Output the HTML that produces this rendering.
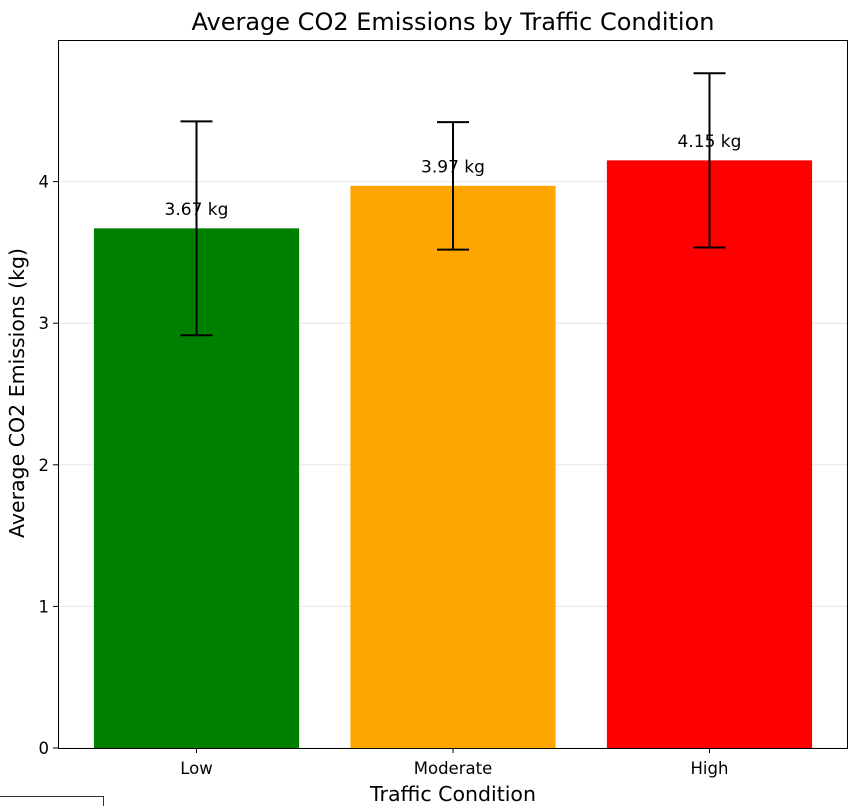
<!DOCTYPE html>
<html><head><meta charset="utf-8"><style>
html,body{margin:0;padding:0;background:#fff;}
svg text{font-family:"DejaVu Sans","Liberation Sans",sans-serif;}
</style></head><body>
<svg id="chart" width="856" height="806" viewBox="0 0 856 806" xmlns="http://www.w3.org/2000/svg">
<rect x="0" y="0" width="856" height="806" fill="#fff"/>
<g id="grid"></g>
<g id="bars"></g>
<g id="axes"></g>
<text x="453" y="30" font-size="24" text-anchor="middle">Average CO2 Emissions by Traffic Condition</text>
<text x="453" y="801" font-size="20.5" text-anchor="middle">Traffic Condition</text>
<text transform="translate(24,393) rotate(-90)" font-size="20.5" text-anchor="middle">Average CO2 Emissions (kg)</text>
<path d="M0 796.5 H103.5 V806" fill="none" stroke="#333" stroke-width="1"/>
</svg>
<script>
const categories = ["Low","Moderate","High"];
const values = [3.67,3.97,4.15];
const errors = [0.755,0.45,0.615];
const colors = ["#008000","#ffa500","#ff0000"];
const yTicks = [0,1,2,3,4];
const valueLabels = ["3.67 kg","3.97 kg","4.15 kg"];

const L=58,R=848,T=40,B=748;
const xmin=-0.54,xmax=2.54,ymin=0,ymax=5.0;
const xs=v=>L+(v-xmin)/(xmax-xmin)*(R-L);
const ys=v=>B-(v-ymin)/(ymax-ymin)*(B-T);
const NS="http://www.w3.org/2000/svg";
function mk(parent,tag,attrs){const e=document.createElementNS(NS,tag);for(const k in attrs)e.setAttribute(k,attrs[k]);parent.appendChild(e);return e;}
const grid=document.getElementById('grid'),bars=document.getElementById('bars'),axes=document.getElementById('axes');
yTicks.forEach(t=>{
  const g=mk(grid,'line',{x1:L,x2:R,y1:ys(t),y2:ys(t),stroke:'#e6e6e6','stroke-width':1});
  
  
  const tk=mk(axes,'line',{x1:L-5,x2:L,y1:ys(t),y2:ys(t),stroke:'#000','stroke-width':1});
  
  
  const tl=mk(axes,'text',{x:L-9,y:ys(t)+6,'font-size':16.5,'text-anchor':'end'});
  tl.textContent=t;
  
  
});
const bw=0.8;
categories.forEach((c,i)=>{
  const r=mk(bars,'rect',{x:xs(i-bw/2),y:ys(values[i]),width:xs(i+bw/2)-xs(i-bw/2),height:ys(0)-ys(values[i]),fill:colors[i]});
  
  
  const cx=xs(i),top=ys(values[i]+errors[i]),bot=ys(values[i]-errors[i]);
  const eb=mk(bars,'path',{d:`M${cx} ${top} V${bot} M${cx-16} ${top} H${cx+16} M${cx-16} ${bot} H${cx+16}`,stroke:'#000','stroke-width':2,fill:'none'});
  
  
  const vl=mk(bars,'text',{x:cx,y:ys(values[i]+0.1)+1,'font-size':17,'text-anchor':'middle'});
  vl.textContent=valueLabels[i];
  
  
  const tk=mk(axes,'line',{x1:cx,x2:cx,y1:B,y2:B+5,stroke:'#000','stroke-width':1});
  
  
  const tl=mk(axes,'text',{x:cx,y:B+26,'font-size':16.5,'text-anchor':'middle'});
  tl.textContent=c;
  
  
});
const fr=mk(axes,'rect',{x:L+0.5,y:T+0.5,width:R-L-1,height:B-T,fill:'none',stroke:'#000','stroke-width':1});


</script>
</body></html>
